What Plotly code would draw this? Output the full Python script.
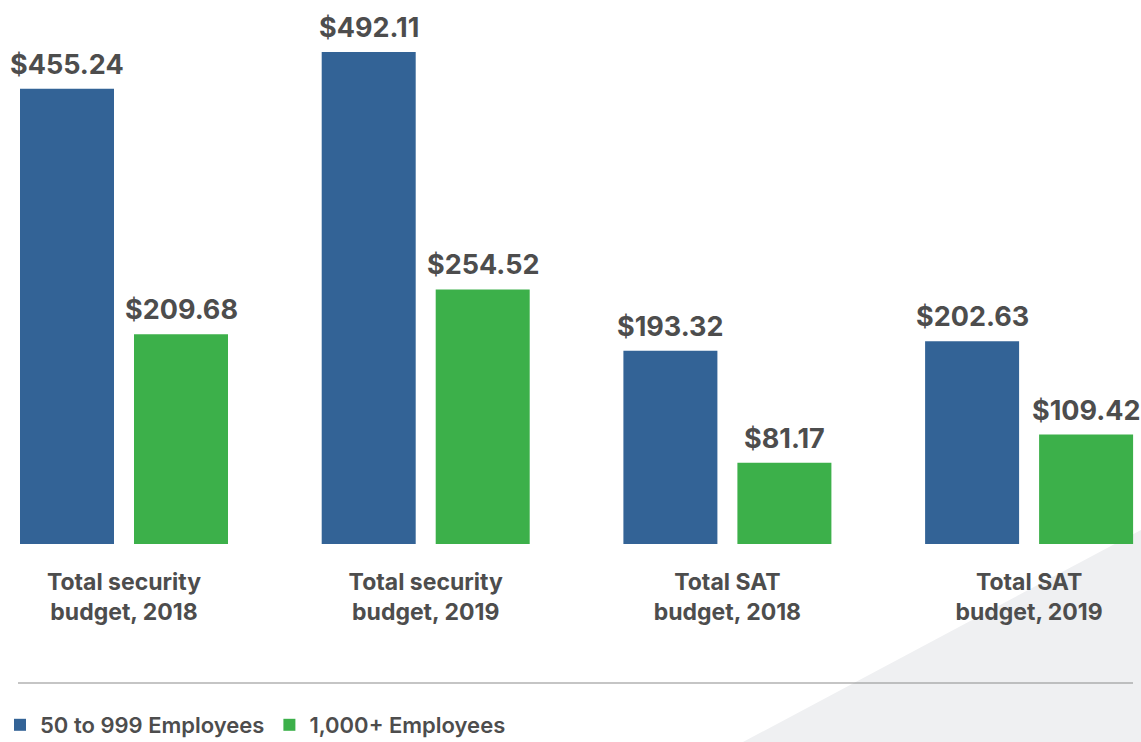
import plotly.graph_objects as go

# data
categories = [
    "Total security<br>budget, 2018",
    "Total security<br>budget, 2019",
    "Total SAT<br>budget, 2018",
    "Total SAT<br>budget, 2019",
]
small_orgs = [455.24, 492.11, 193.32, 202.63]
large_orgs = [209.68, 254.52, 81.17, 109.42]
series_names = ["50 to 999 Employees", "1,000+ Employees"]

BLUE = "#336396"
GREEN = "#3cb04a"
TEXT = "#4d4d4d"
FONT = "Inter"

W, H = 1141, 742
BASE_Y = 544          # pixel row of bar baseline
PITCH = 301.7         # pixels per category
BAR_W = 94 / PITCH
GAP = 20 / PITCH

fig = go.Figure()
for vals, name, color, off in [
    (small_orgs, series_names[0], BLUE, -(BAR_W + GAP / 2)),
    (large_orgs, series_names[1], GREEN, GAP / 2),
]:
    fig.add_trace(go.Bar(
        x=categories, y=vals, name=name,
        marker=dict(color=color, line=dict(width=0)),
        width=BAR_W, offset=off, hoverinfo="skip",
    ))
    # value labels above the bars
    shift = (off + BAR_W / 2) * PITCH
    for c, v in zip(categories, vals):
        fig.add_annotation(
            x=c, y=v, xref="x", yref="y", text=f"${v:.2f}",
            showarrow=False, xshift=shift, yanchor="bottom", yshift=6,
            font=dict(family=FONT, size=27, color=TEXT, weight="bold"),
        )

r0 = -124 / PITCH
fig.update_xaxes(
    range=[r0, r0 + W / PITCH], showgrid=False, zeroline=False, showline=False,
    ticks="", tickfont=dict(family=FONT, size=23, color=TEXT, weight="bold"),
    ticklabelstandoff=22,
)
fig.update_yaxes(range=[0, BASE_Y], visible=False)

# background triangle and separator line
fig.add_shape(
    type="path", xref="paper", yref="paper", layer="below",
    path=f"M {743/W} {-(H-BASE_Y)/BASE_Y} L 1 {(BASE_Y-530)/BASE_Y} L 1 {-(H-BASE_Y)/BASE_Y} Z",
    fillcolor="#eff0f2", line=dict(width=0),
)
fig.add_shape(
    type="line", xref="paper", yref="paper",
    x0=18 / W, x1=1133 / W, y0=-(683 - BASE_Y) / BASE_Y, y1=-(683 - BASE_Y) / BASE_Y,
    line=dict(color="#8c8c8c", width=1.2),
)

fig.update_layout(
    width=W, height=H,
    margin=dict(l=0, r=0, t=0, b=H - BASE_Y, autoexpand=False),
    plot_bgcolor="white", paper_bgcolor="white",
    barmode="group", showlegend=True,
    legend=dict(
        orientation="h", x=0.0, xanchor="left",
        y=-(725 - BASE_Y) / BASE_Y, yanchor="middle",
        font=dict(family=FONT, size=22, color=TEXT, weight=600),
        bgcolor="rgba(0,0,0,0)", itemwidth=30,
    ),
)

fig.write_html("out.html", config={"displayModeBar": False},
               post_script="document.body.style.margin='0';")
